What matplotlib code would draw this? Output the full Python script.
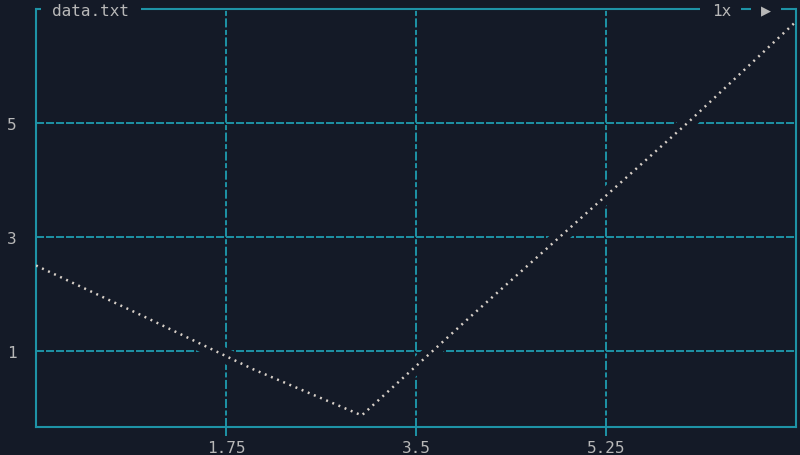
import matplotlib
matplotlib.use("Agg")
import matplotlib.pyplot as plt
from matplotlib.lines import Line2D

# data
xs = [0, 1, 2, 3, 4, 5, 6, 7]
ys = [2.5, 1.6, 0.68, -0.13, 1.6, 3.3, 5.0, 6.78]
xticks = [1.75, 3.5, 5.25]
xticklabels = ["1.75", "3.5", "5.25"]
yticks = [1, 3, 5]
yticklabels = ["1", "3", "5"]
title = "data.txt"
speed = "1x"

BG = "#141a27"
TEAL = "#1e93a6"
TXT = "#b8b8b8"
DOT = "#d8d0c8"
W, H = 800, 456

plt.rcParams["lines.scale_dashes"] = False
plt.rcParams["font.family"] = ["DejaVu Sans Mono", "DejaVu Sans"]

fig = plt.figure(figsize=(8, 4.56), dpi=100, facecolor=BG)
left, right, top, bottom = 36, 796, 10, 428
ax = fig.add_axes([left / W, 1 - bottom / H, (right - left) / W, (bottom - top) / H])
ax.set_facecolor(BG)
ax.set_xlim(0, 7)
ax.set_ylim(-1 / 3, 7)

# grid
ax.set_xticks(xticks)
ax.set_xticklabels(xticklabels)
ax.set_yticks(yticks)
ax.set_yticklabels(yticklabels)
for v in xticks:
    ax.axvline(v, color=TEAL, linewidth=1.4, linestyle=(0, (6.5, 1.8, 3.6, 1.8)), zorder=0.5)
for v in yticks:
    ax.axhline(v, color=TEAL, linewidth=1.4, linestyle=(0, (5.8, 1.4)), zorder=0.5)

# background-coloured underlay cuts the grid where the curve passes
ax.plot(xs, ys, color=BG, linewidth=11, solid_capstyle="butt", zorder=1)
ax.plot(xs, ys, color=DOT, linewidth=1.8, linestyle=(0, (1.4, 3.4)),
        dash_capstyle="butt", zorder=3)

for s in ["left", "bottom", "right"]:
    ax.spines[s].set_color(TEAL)
    ax.spines[s].set_linewidth(1.5)
    ax.spines[s].set_zorder(2.5)
ax.spines["top"].set_visible(False)

ax.tick_params(axis="x", colors=TEAL, labelcolor=TXT, length=6.5, width=1.4,
               direction="out", pad=3, labelsize=11.5)
ax.tick_params(axis="y", length=0, labelcolor=TXT, pad=14, labelsize=11.5)

# top border with gaps for the labels
def seg(x0, x1):
    fig.add_artist(Line2D([x0 / W, x1 / W], [1 - top / H, 1 - top / H],
                          color=TEAL, linewidth=1.5, solid_capstyle="butt"))

seg(left - 0.7, 41)
seg(141, 700)
seg(741, 751)
seg(781, right + 0.7)

ty = 1 - (top + 1) / H
fig.text(52 / W, ty, title, color=TXT, fontsize=11.5, ha="left", va="center")
fig.text(712 / W, ty, speed, color=TXT, fontsize=11.5, ha="left", va="center")
fig.text(766 / W, ty, "\u25b6", color=TXT, fontsize=12, ha="center", va="center")

fig.savefig("out.png", dpi=100, facecolor=BG)
